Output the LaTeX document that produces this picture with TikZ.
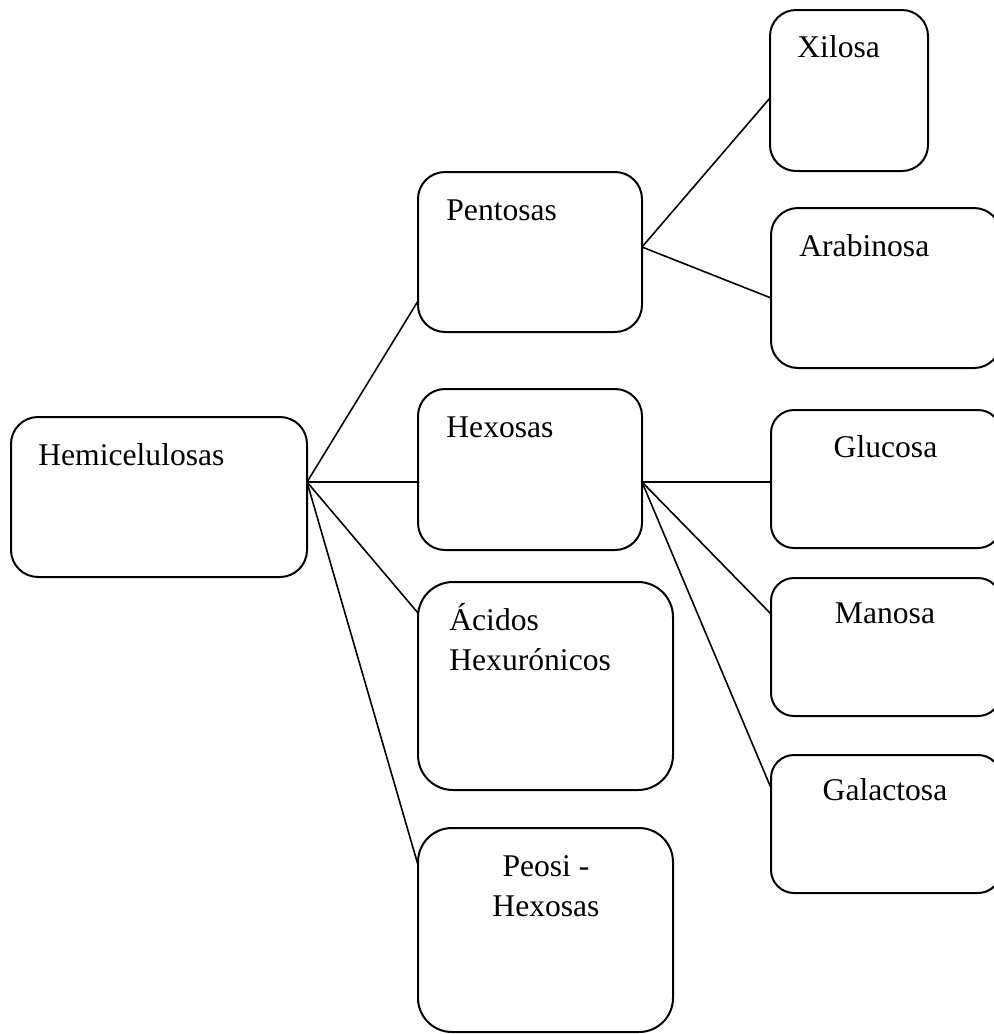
\documentclass[tikz,border=0pt]{standalone}
\usepackage{fontspec}
\setmainfont{Liberation Serif}
\usetikzlibrary{positioning,calc}
\tikzset{
	caja/.style={draw=black,line width=1pt,anchor=north west,inner sep=0pt,outer sep=0pt},
	conector/.style={draw=black,line width=0.8pt},
	texto/.style={inner sep=0pt,font=\fontsize{15.8}{20}\selectfont},
}

\begin{document}
\begin{tikzpicture}[x=0.5pt,y=-0.5pt]
	\useasboundingbox (0,0) rectangle (993,1034);
	% cajas
	\foreach \n/\x/\y/\w/\h/\r in {hemi/11/417/296/160/27,pent/418/172/224/160/27,
		hexo/418/389/224/161/27,acid/418/582/255/208/35,peos/418/828/255/204/34,
		xil/770/10/158/161/26,arab/771/208/230/160/27,gluc/771/410/230/138/23,
		mano/771/578/230/138/23,gala/771/755/230/138/23}
	\node[caja,minimum width=\w*0.5pt,minimum height=\h*0.5pt,rounded corners=\r*0.5pt] (\n) at (\x,\y) {};
	% textos
	\foreach \n/\x/\y/\pos/\t in {hemi/38/465/base west/Hemicelulosas,pent/446/220/base west/Pentosas,
		hexo/446/437/base west/Hexosas,xil/797/57/base west/Xilosa,arab/799/256/base west/Arabinosa,
		gluc/885.5/457/base/Glucosa,mano/885/623/base/Manosa,gala/885/800/base/Galactosa}
	\node[texto,anchor=\pos] (t-\n) at (\x,\y) {\t};
	\node[texto,anchor=north west,align=left] (t-acid) at (449,603) {Ácidos\\Hexurónicos};
	\node[texto,anchor=north,align=center] (t-peos) at (546,855) {Peosi -\\Hexosas};
	% conectores
	\foreach \a/\sa/\b/\sb in {hemi/7.5/pent/-24.5,hemi/7.5/hexo/-6.25,hemi/7.5/acid/36.5,
		hemi/7.5/peos/32.5,pent/2.5/xil/-3.75,pent/2.5/arab/-5,hexo/-6.25/gluc/-1.5,
		hexo/-6.25/mano/16.5,hexo/-6.25/gala/18}
	\draw[conector] ([yshift=\sa pt]\a.east) -- ([yshift=\sb pt]\b.west);
\end{tikzpicture}
\end{document}
